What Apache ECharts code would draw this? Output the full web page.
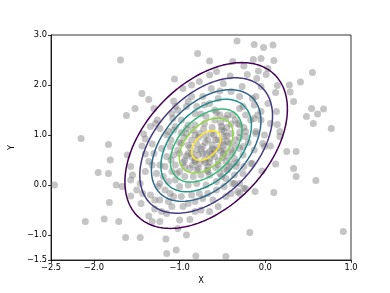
<!DOCTYPE html>
<html><head><meta charset="utf-8">
<script src="https://cdn.jsdelivr.net/npm/echarts@6/dist/echarts.min.js"></script>
<style>html,body{margin:0;padding:0;background:#fff}#c{width:390px;height:293px}</style>
</head><body><div id="c"></div>
<script>
// scatter sample points
const xs = [-1.69,-0.79,-2.15,-1.83,-1.62,-1.52,-1.44,-1.36,-1.30,-1.06,-0.96,-1.61,-1.07,-1.05,-1.26,-1.34,-1.23,-1.28,-1.42,-1.09,-1.08,-1.40,-1.13,-0.33,-0.65,-0.38,-0.25,-0.65,-0.57,-0.41,-0.21,-0.77,-0.86,-0.49,-0.27,-0.63,-0.53,-0.40,-0.86,-0.73,-0.55,-0.30,-0.90,-0.13,-0.02,0.09,-0.14,-0.05,0.10,0.03,-0.08,0.01,0.55,0.41,0.28,0.14,0.12,0.29,0.33,0.03,0.13,-0.10,-0.05,-0.11,0.48,0.54,0.61,0.56,0.68,0.77,0.14,0.17,0.17,0.06,-0.09,-0.05,0.25,0.36,0.12,0.33,0.36,0.59,-0.04,0.10,-0.12,-0.18,0.91,-0.81,-0.46,-0.15,-0.25,-0.30,-0.36,0.06,-0.01,-0.03,-2.46,-1.81,-1.95,-1.83,-1.74,-1.67,-1.82,-2.10,-1.88,-1.71,-1.63,-1.46,-1.16,-1.15,-1.04,-1.57,-1.50,-1.45,-1.36,-1.29,-1.57,-1.55,-1.57,-1.43,-1.23,-1.32,-1.29,-1.23,-1.34,-1.46,-1.40,-1.36,-1.40,-1.44,-1.32,-1.30,-1.32,-1.27,-1.23,-1.17,-1.11,-1.07,-1.13,-1.09,-1.21,-1.15,-1.25,-1.19,-1.13,-1.23,-1.17,-1.09,-1.05,-1.15,-1.21,-1.11,-1.07,-1.05,-0.92,-1.00,-0.88,-1.02,-0.75,-0.65,-0.82,-0.55,-0.96,-0.90,-0.82,-0.73,-0.61,-0.46,-0.40,-0.32,-0.23,-0.30,-0.38,-0.48,-0.57,-0.67,-0.77,-0.86,-0.98,-1.00,-0.90,-0.80,-0.69,-0.57,-0.46,-0.36,-0.26,-0.25,-0.34,-0.44,-0.53,-0.65,-0.75,-0.84,-0.94,-1.00,-0.88,-0.78,-0.67,-0.55,-0.46,-0.36,-0.26,-0.30,-0.40,-0.49,-0.59,-0.71,-0.82,-0.94,-1.00,-0.90,-0.90,-0.49,-0.44,-0.65,-0.73,-1.02,-0.92,-0.82,-0.71,-0.59,-0.51,-0.40,-0.42,-0.48,-0.55,-0.67,-0.73,-0.80,-0.86,-0.92,-0.98,-0.77,-0.65,-0.42,-0.26,-0.23,-0.32,-0.46,-0.59,-0.71,-0.82,-0.77,-0.63,-0.48,-0.59,-0.69,-0.86,-0.94,-0.67,-0.51,-0.17,-0.13,-0.11,-0.17,-0.30,-0.44,-1.05,-1.03,-0.80,-0.65,-0.26,-0.23,-0.38,-0.53,-0.69,-0.98,-0.92,-0.51,-0.30,-0.23,-0.48,-0.82,-0.15,-0.13,-0.05,-0.13,-0.01,-0.11,-1.15,-1.07,-0.62,-0.70,-0.55,-0.78,-0.60,-0.45,-0.85,-0.35,-0.38,-0.95,-0.72,-0.50,-0.58,-0.88,-0.65,-0.30,-0.33,-0.80,-1.10,-0.20,
  -0.52,-0.40,-0.62,-0.84,-0.98,-0.70,-0.45,-0.30,-0.58,-0.80,-1.02,-0.92,-0.75,-0.52,-0.35,-0.62,-0.44,-0.85,-0.70,-0.55,-0.96,-0.40,-0.78,-0.90,-0.35,-0.57,-0.75,-0.68,-0.48,-1.10,-1.00,-0.25,-0.62,-0.82,-0.50];
const ys = [2.50,2.63,0.93,0.81,1.39,1.53,1.83,1.71,1.53,2.12,1.93,0.60,1.68,1.57,1.30,1.17,1.13,1.23,1.02,1.43,1.33,0.92,1.07,2.88,2.48,2.47,2.38,2.20,2.27,2.18,2.21,2.07,2.00,2.03,1.97,1.93,1.88,1.87,1.77,1.77,1.73,1.77,1.67,2.81,2.75,2.80,2.51,2.53,2.49,2.33,2.28,2.21,2.25,2.06,2.00,1.99,1.85,1.86,1.67,1.63,1.47,2.13,1.97,1.77,1.37,1.53,1.42,1.23,1.52,1.13,1.21,1.07,0.97,1.23,1.40,1.30,0.67,0.67,0.42,0.33,0.17,0.09,0.28,-0.15,-0.13,-0.95,-0.93,-1.42,-1.43,0.43,-0.07,-0.17,0.03,0.78,0.77,0.83,0.00,0.50,0.25,0.23,0.00,-0.03,-0.35,-0.73,-0.68,-0.73,-1.05,-1.05,-1.08,-1.37,-1.30,-0.22,-0.10,-0.37,-0.62,-0.48,0.37,0.20,0.10,-0.17,-0.73,-0.73,-0.30,-0.30,-0.20,0.03,0.27,0.47,0.62,0.78,0.82,0.63,0.40,0.23,0.03,-0.10,-0.17,-0.23,-0.33,-0.43,-0.53,-0.57,-0.03,0.17,0.07,0.40,0.37,0.27,0.10,0.57,0.73,0.77,0.60,0.40,-1.00,-0.70,-0.69,-0.87,-0.50,-0.53,-0.53,-0.43,-0.43,-0.37,-0.33,-0.27,-0.30,-0.23,-0.17,-0.13,-0.07,0.03,0.03,-0.03,-0.10,-0.17,-0.17,-0.20,-0.23,-0.03,0.00,0.03,0.00,0.07,0.13,0.20,0.23,0.37,0.37,0.30,0.23,0.20,0.20,0.17,0.17,0.27,0.33,0.33,0.37,0.40,0.47,0.53,0.60,0.73,0.70,0.63,0.57,0.50,0.47,0.50,0.63,0.63,0.80,0.80,0.87,0.67,0.63,1.50,1.57,1.43,1.23,1.30,1.10,1.03,0.83,0.70,0.90,0.90,0.77,0.70,0.90,1.03,0.83,0.43,0.53,0.37,0.77,0.97,1.23,1.33,1.50,1.60,1.20,1.03,1.03,0.97,0.70,0.63,0.63,0.37,0.27,0.17,0.43,0.70,1.03,1.30,1.53,1.40,1.17,0.23,1.57,1.63,1.57,1.40,1.40,1.40,1.37,1.30,1.13,1.17,1.20,1.07,1.07,1.00,1.73,1.60,1.47,1.33,1.00,1.07,1.00,1.10,0.80,0.85,0.75,0.60,1.00,1.15,0.55,0.90,0.65,0.95,1.12,0.55,0.35,0.75,0.45,1.05,0.45,0.30,0.90,0.85,
  1.25,1.22,1.15,1.10,1.05,0.98,0.98,0.95,0.90,0.82,0.70,0.58,0.72,0.68,0.78,0.62,0.58,0.40,0.45,0.48,0.45,0.42,0.95,1.20,1.30,1.45,1.42,0.30,0.32,0.50,0.85,1.15,0.72,0.50,0.85];

// fitted Gaussian used for the contour lines
const meanXY = [-0.69, 0.79];
const sigmaXY = [0.474, 0.829];
const rho = [0.44];
// Mahalanobis radius of each contour level (outer to inner)
const levelRadii = [2.0, 1.634, 1.348, 1.114, 0.882, 0.662, 0.358];
const levelColors = ['#440154','#443a83','#31688e','#21918c','#35b779','#90d743','#fde725'];

// tick values
const xTicks = [-2.5, -2.0, -1.0, 0.0, 1.0];
const yTicks = [-1.5, -1.0, 0.0, 1.0, 2.0, 3.0];

const pts = xs.map((x, i) => [x, ys[i]]);
function ellipse(r) {
  const sx = sigmaXY[0], sy = sigmaXY[1], p = rho[0];
  const out = [];
  const n = 180;
  for (let k = 0; k <= n; k++) {
    const t = 2 * Math.PI * k / n;
    const c = Math.cos(t), s = Math.sin(t);
    out.push([meanXY[0] + r * sx * c, meanXY[1] + r * (p * sy * c + sy * Math.sqrt(1 - p * p) * s)]);
  }
  return out;
}
const fmt = v => (v < 0 ? '\u2212' : '') + Math.abs(v).toFixed(1);
const font = 'DejaVu Sans';
const series = [{
  type: 'scatter', data: pts, symbolSize: 7, z: 2, animation: false,
  itemStyle: { color: 'rgba(110,110,110,0.5)', borderWidth: 0 }
}];
levelRadii.forEach((r, i) => series.push({
  type: 'line', data: ellipse(r), showSymbol: false, smooth: false, silent: true,
  lineStyle: { color: levelColors[i], width: 1.5 }, z: 3, animation: false
}));
const chart = echarts.init(document.getElementById('c'), null, { renderer: 'canvas' });
chart.setOption({
  animation: false,
  grid: { left: 48, top: 35, width: 303, height: 225, show: true, borderColor: '#000', borderWidth: 0.8, backgroundColor: 'transparent' },
  xAxis: {
    type: 'value', min: -2.5, max: 1.0, name: 'X', nameLocation: 'middle', nameGap: 16,
    nameTextStyle: { fontFamily: font, fontSize: 8.3, color: '#000' },
    axisLine: { show: true, onZero: false, lineStyle: { color: '#000', width: 0.8 } },
    axisTick: { show: true, length: 3, customValues: xTicks, lineStyle: { color: '#000', width: 0.8 } },
    axisLabel: { customValues: xTicks, formatter: fmt, fontFamily: font, fontSize: 8.3, color: '#000', margin: 4 },
    splitLine: { show: false }
  },
  yAxis: {
    type: 'value', min: -1.5, max: 3.0, name: 'Y', nameLocation: 'middle', nameGap: 28, nameRotate: 90,
    nameTextStyle: { fontFamily: font, fontSize: 8.3, color: '#000' },
    axisLine: { show: true, onZero: false, lineStyle: { color: '#000', width: 0.8 } },
    axisTick: { show: true, length: 3, customValues: yTicks, lineStyle: { color: '#000', width: 0.8 } },
    axisLabel: { customValues: yTicks, formatter: fmt, fontFamily: font, fontSize: 8.3, color: '#000', margin: 4 },
    splitLine: { show: false }
  },
  series: series
});
</script>
</body></html>
